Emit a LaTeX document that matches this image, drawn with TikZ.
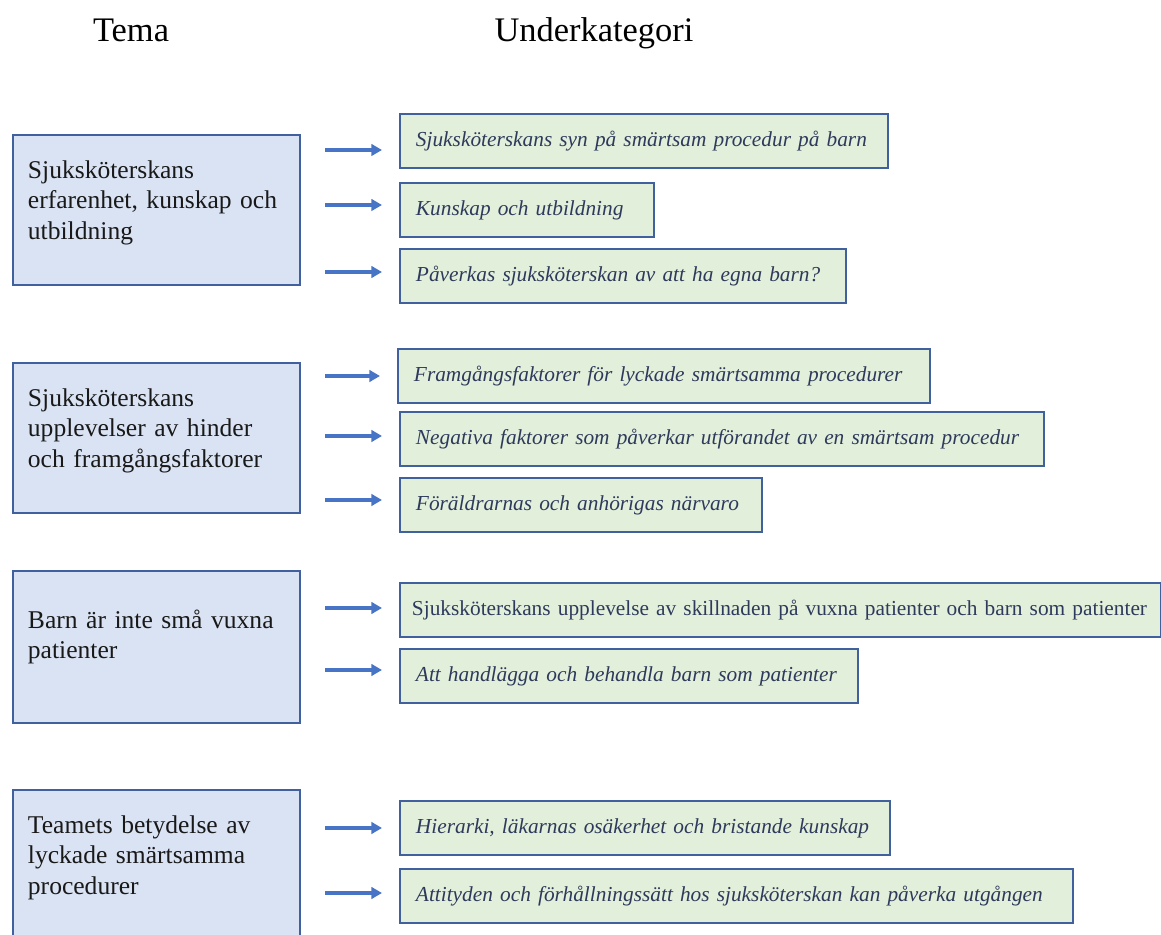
\documentclass[tikz,border=0pt]{standalone}
\usepackage{fontspec}
\setmainfont{Liberation Serif}
\usetikzlibrary{arrows.meta}
\definecolor{temafill}{HTML}{DAE3F3}
\definecolor{ramblue}{HTML}{41609E}
\definecolor{katfill}{HTML}{E2EFDA}
\definecolor{pilblue}{HTML}{4874C6}
\definecolor{kattext}{HTML}{2E3A5C}
\tikzset{
	tema/.style={draw=ramblue, fill=temafill, line width=1.1pt, anchor=north west, inner xsep=0.3cm, inner ysep=0pt, text width=5.14cm, align=left, font=\fontsize{14.55}{17.1}\selectfont, text=black!90, text height=0.88cm, text depth=2.12cm},
	kat/.style={draw=ramblue, fill=katfill, line width=1.1pt, anchor=north west, inner xsep=0.32cm, inner ysep=0pt, minimum height=1.08cm, align=left, text width=#1, font=\fontsize{12.15}{14}\selectfont\itshape, text=kattext},
	pil/.style={draw=pilblue, line width=1.75pt, -{Triangle[length=6pt,width=6.5pt]}, shorten >=0.34cm},
	rubrik/.style={font=\fontsize{19.6}{22}\selectfont, anchor=base}
}

\begin{document}
\begin{tikzpicture}[x=0.02cm, y=-0.02cm]
		%%%%% START %%%%%
		\useasboundingbox (0, 0) rectangle (1161, 935);
		
		\node[rubrik] (tema) at (131, 42) {Tema};
		\node[rubrik] (under) at (594, 42) {Underkategori};
		
		% teman
		\node[tema] (t1) at (12, 134) {Sjuksköterskans\\ erfarenhet, kunskap och\\ utbildning};
		\node[tema] (t2) at (12, 362) {Sjuksköterskans\\ upplevelser av hinder\\ och framgångsfaktorer};
		\node[tema, text height=1.16cm, text depth=1.88cm] (t3) at (12, 570) {Barn är inte små vuxna\\ patienter};
		\node[tema] (t4) at (12, 789) {Teamets betydelse av\\ lyckade smärtsamma\\ procedurer};
		
		% underkategorier
		\node[kat=9.12cm] (k1) at (399, 113) {\mbox{Sjuksköterskans syn på smärtsam procedur på barn}};
		\node[kat=4.44cm] (k2) at (399, 182) {\mbox{Kunskap och utbildning}};
		\node[kat=8.28cm] (k3) at (399, 248) {\mbox{Påverkas sjuksköterskan av att ha egna barn?}};
		
		\node[kat=10.0cm] (k4) at (397, 348) {\mbox{Framgångsfaktorer för lyckade smärtsamma procedurer}};
		\node[kat=12.24cm] (k5) at (399, 411) {\mbox{Negativa faktorer som påverkar utförandet av en smärtsam procedur}};
		\node[kat=6.6cm] (k6) at (399, 477) {\mbox{Föräldrarnas och anhörigas närvaro}};
		
		\node[kat=14.74cm, inner xsep=0.24cm, font=\fontsize{12.15}{14}\selectfont\upshape] (k7) at (399, 582) {\mbox{Sjuksköterskans upplevelse av skillnaden på vuxna patienter och barn som patienter}};
		\node[kat=8.52cm] (k8) at (399, 648) {\mbox{Att handlägga och behandla barn som patienter}};
		
		\node[kat=9.16cm] (k9) at (399, 800) {\mbox{Hierarki, läkarnas osäkerhet och bristande kunskap}};
		\node[kat=12.82cm] (k10) at (399, 868) {\mbox{Attityden och förhållningssätt hos sjuksköterskan kan påverka utgången}};
		
		% pilar
		\coordinate (p1) at (325, 150);
		\coordinate (p2) at (325, 205);
		\coordinate (p3) at (325, 272);
		\coordinate (p4) at (325, 376);
		\coordinate (p5) at (325, 436);
		\coordinate (p6) at (325, 500);
		\coordinate (p7) at (325, 608);
		\coordinate (p8) at (325, 670);
		\coordinate (p9) at (325, 828);
		\coordinate (p10) at (325, 893);
		
		\draw[pil] (p1) -- (p1 -| k1.west);
		\draw[pil] (p2) -- (p2 -| k2.west);
		\draw[pil] (p3) -- (p3 -| k3.west);
		\draw[pil] (p4) -- (p4 -| k4.west);
		\draw[pil] (p5) -- (p5 -| k5.west);
		\draw[pil] (p6) -- (p6 -| k6.west);
		\draw[pil] (p7) -- (p7 -| k7.west);
		\draw[pil] (p8) -- (p8 -| k8.west);
		\draw[pil] (p9) -- (p9 -| k9.west);
		\draw[pil] (p10) -- (p10 -| k10.west);
		%%%%% END %%%%%
\end{tikzpicture}
\end{document}
